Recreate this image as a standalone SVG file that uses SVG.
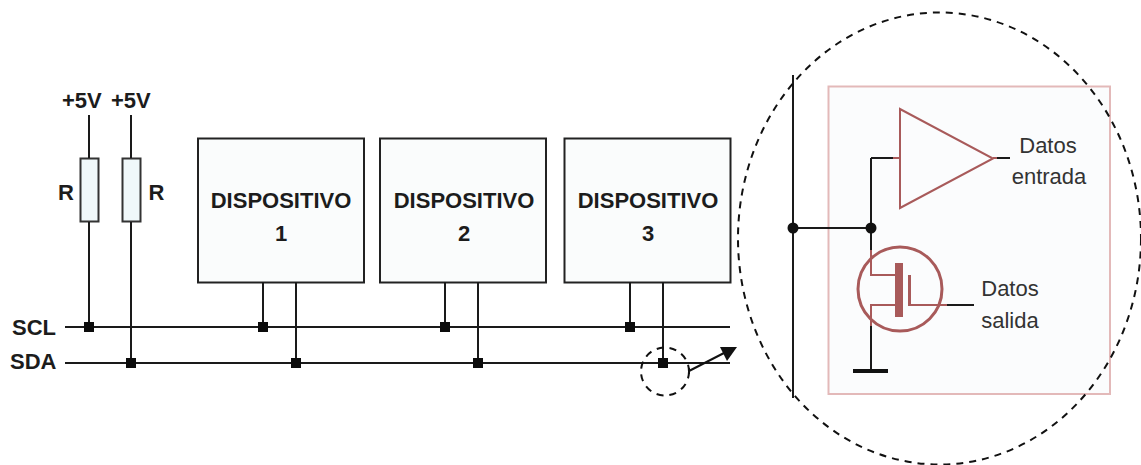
<svg xmlns="http://www.w3.org/2000/svg" width="1141" height="465" viewBox="0 0 1141 465">
<style>
text{font-family:"Liberation Sans",Arial,sans-serif;fill:#1c1c1c}
.b{font-weight:bold;font-size:22px}
.m{text-anchor:middle}
.r{font-size:22px;fill:#333}
.w{stroke:#1a1a1a;stroke-width:2;fill:none}
.box{fill:#fafcfc;stroke:#222;stroke-width:2}
.res{fill:#f0f8fa;stroke:#333;stroke-width:2}
.j{fill:#0c0c0c}
.red{stroke:#a85a5a;fill:none}
.dash{fill:none;stroke:#111;stroke-width:2;stroke-dasharray:7 6}
</style>
<rect width="1141" height="465" fill="#fff"/>
<g id="r1"><rect class="res" x="80.500" y="158.500" width="18" height="63"/><text class="b" x="58" y="200">R</text></g>
<g id="r2"><rect class="res" x="122.500" y="158.500" width="18" height="63"/><text class="b" x="148.500" y="200">R</text></g>
<g id="v1"><text class="b" x="62" y="108">+5V</text></g>
<g id="v2"><text class="b" x="111" y="108">+5V</text></g>
<g id="scl"><text class="b" x="12" y="335">SCL</text></g>
<g id="sda"><text class="b" x="10" y="369">SDA</text></g>
<g id="dev1"><rect class="box" x="198" y="138.500" width="166" height="144"/><text class="b m" x="281" y="208">DISPOSITIVO</text><text class="b m" x="281" y="241">1</text></g>
<g id="dev2"><rect class="box" x="380" y="138.500" width="166" height="144"/><text class="b m" x="464" y="208">DISPOSITIVO</text><text class="b m" x="464" y="241">2</text></g>
<g id="dev3"><rect class="box" x="564.500" y="138.500" width="166" height="144"/><text class="b m" x="648" y="208">DISPOSITIVO</text><text class="b m" x="648" y="241">3</text></g>
<g id="detail-box"><rect x="828.500" y="86.500" width="281.500" height="307.500" fill="#fbfcfd" stroke="#e3b9b9" stroke-width="2"/></g>
<g id="buffer"><polygon class="red" stroke-width="2" points="900,109 900,208 993,158.500"/><path class="red" stroke-width="2" d="M893 158H900M993 158H997"/></g>
<g id="transistor"><circle class="red" stroke-width="3" cx="900" cy="289" r="42"/><path class="red" stroke-width="2" d="M871 250V275H896M896 305H871V326M911 305H947"/><rect x="895" y="263" width="8" height="54" fill="#a85a5a"/><rect x="908" y="275" width="3" height="31" fill="#a85a5a"/></g>
<g id="data-in"><text class="r m" x="1048" y="153">Datos</text><text class="r m" x="1049" y="184">entrada</text></g>
<g id="data-out"><text class="r m" x="1010" y="296">Datos</text><text class="r m" x="1010" y="328">salida</text></g>
<g id="connectors">
<path class="w" d="M65 327H730M65 363H730M89 115V158M89 222V327M131 115V158M131 222V363M263 282V327M296 282V363M445 282V327M478 282V363M630 282V327M663 282V363"/>
<path class="w" d="M793 75V398M793 228H871M871 158V250M871 326V370M871 158H893M997 158H1010M947 305H974"/>
<path d="M853 371H888" stroke="#111" stroke-width="4" fill="none"/>
<path d="M689 371L724 353M689 368V374" stroke="#111" stroke-width="2" fill="none"/>
<polygon points="720,347 737,347 727,361" fill="#111"/>
</g>
<g id="junctions">
<rect class="j" x="84" y="322" width="10" height="10"/><rect class="j" x="126" y="358" width="10" height="10"/>
<rect class="j" x="258" y="322" width="10" height="10"/><rect class="j" x="291" y="358" width="10" height="10"/>
<rect class="j" x="440" y="322" width="10" height="10"/><rect class="j" x="473" y="358" width="10" height="10"/>
<rect class="j" x="625" y="322" width="10" height="10"/><rect class="j" x="658" y="358" width="10" height="10"/>
<circle cx="793" cy="228" r="5.500" fill="#111"/><circle cx="871" cy="228" r="5.500" fill="#111"/>
</g>
<g id="zoom-small"><circle class="dash" cx="665" cy="371.500" r="24"/></g>
<g id="zoom-big"><ellipse class="dash" cx="939.500" cy="238.500" rx="201.500" ry="226"/></g>
</svg>
